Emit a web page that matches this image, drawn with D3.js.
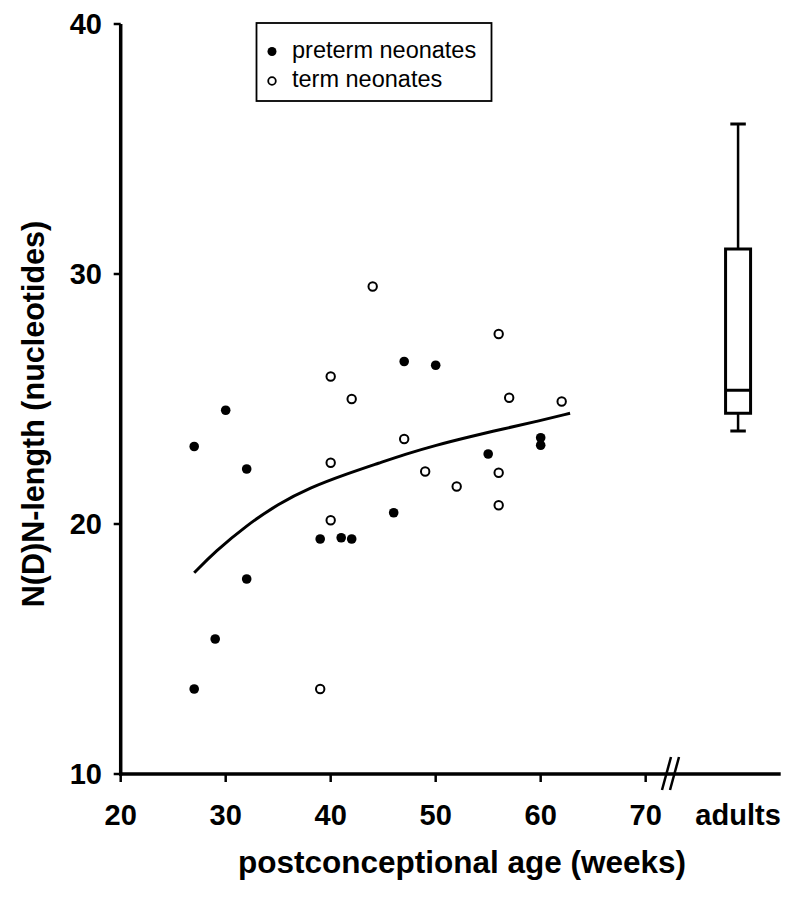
<!DOCTYPE html>
<html><head><meta charset="utf-8">
<script src="https://cdn.jsdelivr.net/npm/d3@7"></script>
<style>body{margin:0;background:#fff}svg{display:block}text{font-family:"Liberation Sans",Arial,sans-serif}</style>
</head><body>
<svg id="c" width="800" height="898"></svg>
<script>
// data
const xTicks = [20, 30, 40, 50, 60, 70];
const yTicks = [10, 20, 30, 40];
const pretermWeeks = [27, 27, 29, 30, 32, 32, 39, 41, 42, 46, 47, 50, 55, 60, 60];
const pretermVals  = [23.1, 13.4, 15.4, 24.55, 22.2, 17.8, 19.4, 19.45, 19.4, 20.45, 26.5, 26.35, 22.8, 23.45, 23.15];
const termWeeks = [39, 40, 40, 40, 44, 42, 47, 49, 52, 56, 56, 56, 57, 62];
const termVals  = [13.4, 25.9, 22.45, 20.15, 29.5, 25.0, 23.4, 22.1, 21.5, 27.6, 22.05, 20.75, 25.05, 24.9];
const fitWeeks = [27, 29, 32, 35, 38, 41.5, 44.7, 47, 50, 53.3, 56.4, 59.6, 62.8];
const fitVals  = [18.05, 18.9, 19.95, 20.8, 21.45, 22.0, 22.45, 22.78, 23.15, 23.5, 23.8, 24.1, 24.43];
const adultsBox = {lowWhisker: 23.72, q1: 24.43, median: 25.35, q3: 31.0, highWhisker: 36.0};
const adultsLabel = "adults";
const legendLabels = ["preterm neonates", "term neonates"];

const svg = d3.select("#c");
const x = d3.scaleLinear().domain([20, 82.86]).range([120.7, 780.7]);
const adultsX = 78.8;
const y = d3.scaleLinear().domain([10, 40]).range([774, 24]);

// axes lines
svg.append("line").attr("x1", x(20)).attr("x2", x(20)).attr("y1", y(40)).attr("y2", y(10) + 1.5)
  .attr("stroke", "#000").attr("stroke-width", 3.5);
svg.append("line").attr("x1", x(20) - 1.7).attr("x2", x.range()[1]).attr("y1", y(10)).attr("y2", y(10))
  .attr("stroke", "#000").attr("stroke-width", 3.5);

// y ticks
const yg = svg.append("g");
yTicks.forEach(t => {
  yg.append("line").attr("x1", x(20) - 7).attr("x2", x(20)).attr("y1", y(t)).attr("y2", y(t))
    .attr("stroke", "#000").attr("stroke-width", 2.5);
  yg.append("text").attr("x", 102).attr("y", y(t)).attr("dy", "0.36em").attr("text-anchor", "end")
    .attr("font-size", 29).attr("font-weight", "bold").text(t);
});
// x ticks
const xg = svg.append("g");
xTicks.forEach(t => {
  xg.append("line").attr("x1", x(t)).attr("x2", x(t)).attr("y1", y(10)).attr("y2", y(10) + 8)
    .attr("stroke", "#000").attr("stroke-width", 2.5);
  xg.append("text").attr("x", x(t)).attr("y", 825).attr("text-anchor", "middle")
    .attr("font-size", 29).attr("font-weight", "bold").text(t);
});
xg.append("text").attr("x", x(adultsX)).attr("y", 825).attr("text-anchor", "middle")
  .attr("font-size", 29).attr("font-weight", "bold").text(adultsLabel);

// axis break //
[0, 8].forEach(o => {
  svg.append("line").attr("x1", 662 + o).attr("y1", 790).attr("x2", 671 + o).attr("y2", 757)
    .attr("stroke", "#000").attr("stroke-width", 2.5);
});

// titles
svg.append("text").attr("x", 462).attr("y", 873).attr("text-anchor", "middle")
  .attr("font-size", 31.5).attr("font-weight", "bold").text("postconceptional age (weeks)");
svg.append("text").attr("transform", "translate(44,414) rotate(-90)").attr("text-anchor", "middle")
  .attr("font-size", 30.5).attr("font-weight", "bold").text("N(D)N-length (nucleotides)");

// fit curve
const line = d3.line().x(d => x(d[0])).y(d => y(d[1])).curve(d3.curveBasis);
svg.append("path").datum(fitWeeks.map((w, i) => [w, fitVals[i]])).attr("d", line)
  .attr("fill", "none").attr("stroke", "#000").attr("stroke-width", 3);

// points
svg.append("g").selectAll("circle").data(pretermWeeks.map((w, i) => [w, pretermVals[i]])).join("circle")
  .attr("cx", d => x(d[0])).attr("cy", d => y(d[1])).attr("r", 4.8).attr("fill", "#000");
svg.append("g").selectAll("circle").data(termWeeks.map((w, i) => [w, termVals[i]])).join("circle")
  .attr("cx", d => x(d[0])).attr("cy", d => y(d[1])).attr("r", 4.2).attr("fill", "#fff")
  .attr("stroke", "#000").attr("stroke-width", 2);

// box plot
const bx = x(adultsX), bw = 25, cw = 15.5;
const bg = svg.append("g").attr("stroke", "#000").attr("fill", "none");
bg.append("line").attr("x1", bx).attr("x2", bx).attr("y1", y(adultsBox.highWhisker)).attr("y2", y(adultsBox.q3)).attr("stroke-width", 2.5);
bg.append("line").attr("x1", bx).attr("x2", bx).attr("y1", y(adultsBox.q1)).attr("y2", y(adultsBox.lowWhisker)).attr("stroke-width", 2.5);
bg.append("line").attr("x1", bx - cw / 2).attr("x2", bx + cw / 2).attr("y1", y(adultsBox.highWhisker)).attr("y2", y(adultsBox.highWhisker)).attr("stroke-width", 3);
bg.append("line").attr("x1", bx - cw / 2).attr("x2", bx + cw / 2).attr("y1", y(adultsBox.lowWhisker)).attr("y2", y(adultsBox.lowWhisker)).attr("stroke-width", 3);
bg.append("rect").attr("x", bx - bw / 2).attr("y", y(adultsBox.q3)).attr("width", bw)
  .attr("height", y(adultsBox.q1) - y(adultsBox.q3)).attr("fill", "#fff").attr("stroke-width", 3);
bg.append("line").attr("x1", bx - bw / 2).attr("x2", bx + bw / 2).attr("y1", y(adultsBox.median)).attr("y2", y(adultsBox.median)).attr("stroke-width", 3);

// legend
const lg = svg.append("g");
lg.append("rect").attr("x", 256.5).attr("y", 23).attr("width", 235).attr("height", 78)
  .attr("fill", "#fff").attr("stroke", "#000").attr("stroke-width", 1.8);
lg.append("circle").attr("cx", 272).attr("cy", 51.5).attr("r", 4.5).attr("fill", "#000");
lg.append("circle").attr("cx", 272).attr("cy", 81).attr("r", 3.8).attr("fill", "#fff").attr("stroke", "#000").attr("stroke-width", 1.8);
lg.append("text").attr("x", 292).attr("y", 58).attr("font-size", 23.5).text(legendLabels[0]);
lg.append("text").attr("x", 292).attr("y", 87).attr("font-size", 23.5).text(legendLabels[1]);
</script>
</body></html>
